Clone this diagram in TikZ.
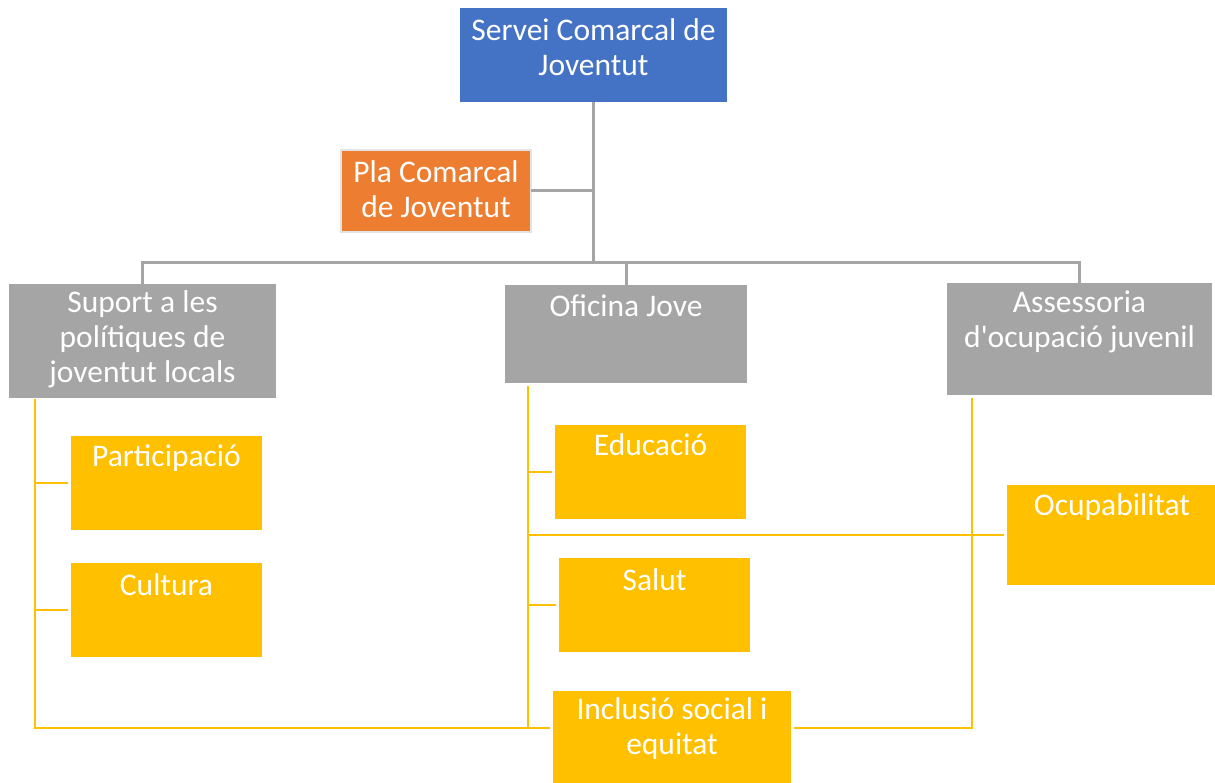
\documentclass[tikz,border=0pt]{standalone}
\usepackage{fontspec}
\setmainfont{Carlito}[Ligatures=TeXOff]
\definecolor{cblue}{HTML}{4472C4}
\definecolor{corange}{HTML}{ED7D31}
\definecolor{cgray}{HTML}{A5A5A5}
\definecolor{cyellow}{HTML}{FFC000}
\definecolor{cborder}{HTML}{E3E3E3}
\begin{document}
\begin{tikzpicture}[x=1pt,y=-1pt,
  box/.style={rectangle,inner sep=0pt,outer sep=0pt},
  txt/.style={text=white,align=center,inner sep=0pt,yshift=-2pt,font=\fontsize{31.5}{35}\selectfont},
  gline/.style={draw=cgray,line width=3pt},
  yline/.style={draw=cyellow,line width=2.8pt}]
\useasboundingbox (0,0) rectangle (1215,783);
\fill[white] (0,0) rectangle (1215,783);
% boxes
\node[box,fill=cblue,minimum width=267pt,minimum height=94pt] (blue) at (593.5,55) {};
\node[box,fill=corange,draw=cborder,line width=2.5pt,minimum width=190pt,minimum height=82pt] (orange) at (436,191) {};
\node[box,fill=cgray,minimum width=267pt,minimum height=114pt] (suport) at (142.5,341) {};
\node[box,fill=cgray,minimum width=242pt,minimum height=98pt] (oficina) at (626,334) {};
\node[box,fill=cgray,minimum width=265pt,minimum height=112pt] (assess) at (1079.5,339) {};
\node[box,fill=cyellow,minimum width=191pt,minimum height=94pt] (part) at (166.5,483) {};
\node[box,fill=cyellow,minimum width=191pt,minimum height=94pt] (cult) at (166.5,610) {};
\node[box,fill=cyellow,minimum width=191pt,minimum height=94pt] (edu) at (650.5,472) {};
\node[box,fill=cyellow,minimum width=191pt,minimum height=94pt] (salut) at (654.5,605) {};
\node[box,fill=cyellow,minimum width=238pt,minimum height=100pt] (incl) at (672,741) {};
\node[box,fill=cyellow,minimum width=210pt,minimum height=100pt] (ocup) at (1112,535) {};
% texts
\node[txt] (tblue) at (593.5,45) {Servei Comarcal de\\Joventut};
\node[txt] (torange) at (436,187) {Pla Comarcal\\de Joventut};
\node[txt] (tsuport) at (142.5,337) {Suport a les\\polítiques de\\joventut locals};
\node[txt] (toficina) at (626,304) {Oficina Jove};
\node[txt] (tassess) at (1079.5,320) {Assessoria\\d'ocupació juvenil};
\node[txt] (tpart) at (166.5,456) {Participació};
\node[txt] (tcult) at (166.5,583) {Cultura};
\node[txt] (tedu) at (650.5,443) {Educació};
\node[txt] (tsalut) at (654.5,578) {Salut};
\node[txt] (tincl) at (672,727) {Inclusió social i\\equitat};
\node[txt] (tocup) at (1112,505) {Ocupabilitat};
% gray connectors
\coordinate (bus) at (0,263);
\draw[gline] (blue.south) -- (blue.south |- bus);
\draw[gline] (orange.east) -- (orange.east -| blue.south);
\draw[gline] (suport.north) -- (suport.north |- bus) -- (assess.north |- bus) -- (assess.north);
\draw[gline] (oficina.north) -- (oficina.north |- bus);
% yellow connectors
\coordinate (yL) at (35,399);
\coordinate (yM) at (528,386);
\coordinate (yR) at (972,398);
\coordinate (bot) at (0,728);
\draw[yline] (yL) -- (yL |- bot) -- ([xshift=-3pt]incl.west |- bot);
\draw[yline] (yL |- part.west) -- ([xshift=-3pt]part.west);
\draw[yline] (yL |- cult.west) -- ([xshift=-3pt]cult.west);
\draw[yline] (yM) -- (yM |- bot) -- ([xshift=-3pt]incl.west |- bot);
\draw[yline] (yM |- edu.west) -- ([xshift=-3pt]edu.west);
\draw[yline] (yM |- salut.west) -- ([xshift=-3pt]salut.west);
\draw[yline] (yM |- ocup.west) -- ([xshift=-3pt]ocup.west);
\draw[yline] (yR) -- (yR |- bot) -- ([xshift=3pt]incl.east |- bot);
\end{tikzpicture}
\end{document}
